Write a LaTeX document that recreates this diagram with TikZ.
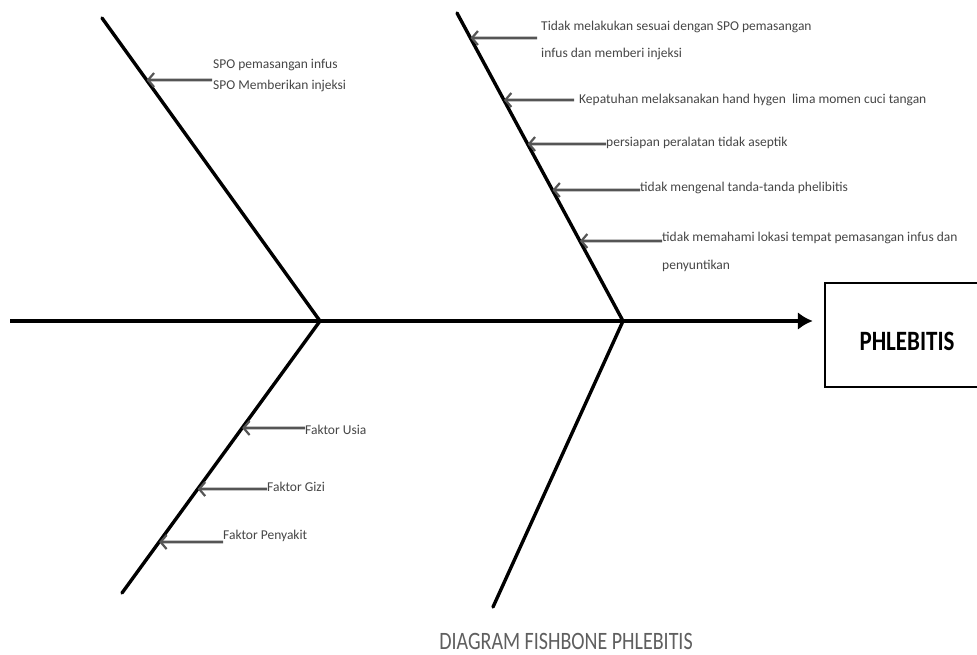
\documentclass[tikz,border=0pt]{standalone}
\usepackage{fontspec}
\setmainfont{Carlito}
\usetikzlibrary{arrows.meta,calc}
\definecolor{causegray}{RGB}{85,85,85}
\definecolor{labelgray}{RGB}{70,70,70}
\definecolor{titlegray}{RGB}{95,95,95}
\begin{document}
\begin{tikzpicture}[x=1pt,y=-1pt,
  bone/.style={line width=3.4pt, black, line cap=round, line join=miter},
  spine/.style={line width=4.8pt, black, -{Latex[length=15pt,width=18pt]}},
  cause/.style={line width=2.6pt, causegray, -{Straight Barb[length=6pt,width=14pt,line width=2.2pt]}},
  lbl/.style={font=\fontsize{13.5}{16.5}\selectfont, text=labelgray, anchor=west, inner sep=0pt, align=left},
]
\useasboundingbox (0,0) rectangle (977,654);
\clip (0,0) rectangle (977,654);
\fill[white] (0,0) rectangle (977,654);

% skeleton
\coordinate (tail) at (10,321);
\coordinate (J1) at (320,321);
\coordinate (J2) at (623,321);
\coordinate (ulT) at (102,18);
\coordinate (urT) at (457,13);
\coordinate (llB) at (122,593);
\coordinate (lrB) at (493,607);

\node[draw, line width=2.5pt, minimum width=164pt, minimum height=104pt, inner sep=0pt,
      font=\fontsize{28}{30}\selectfont\bfseries, text height=30pt, text depth=0pt] (effect) at (907,335) {\scalebox{0.82}[1]{PHLEBITIS}};

\draw[spine, shorten >=11pt] (tail) -- (tail -| effect.west);
\draw[bone] (ulT) -- (J1) -- (llB);
\draw[bone] (urT) -- (J2) -- (lrB);

% upper left
\coordinate (p1) at (intersection of ulT--J1 and 0,80--1,80);
\coordinate (s1) at (212,80);
\node[lbl] (l1) at (213,75.5) {SPO pemasangan infus\\[4pt]SPO Memberikan injeksi};
\draw[cause] (s1) -- (p1);

% upper right
\coordinate (p2) at (intersection of urT--J2 and 0,38--1,38);
\coordinate (s2) at (537,38);
\node[lbl] (l2) at (541,40.5) {Tidak melakukan sesuai dengan SPO pemasangan\\[10pt]infus dan memberi injeksi};
\draw[cause] (s2) -- (p2);

\coordinate (p3) at (intersection of urT--J2 and 0,100--1,100);
\coordinate (s3) at (574,100);
\node[lbl] (l3) at (579,100) {Kepatuhan melaksanakan hand hygen\ \ lima momen cuci tangan};
\draw[cause] (s3) -- (p3);

\coordinate (p4) at (intersection of urT--J2 and 0,144--1,144);
\coordinate (s4) at (606,144);
\node[lbl] (l4) at (606,143) {persiapan peralatan tidak aseptik};
\draw[cause] (s4) -- (p4);

\coordinate (p5) at (intersection of urT--J2 and 0,190--1,190);
\coordinate (s5) at (640,190);
\node[lbl] (l5) at (640,188) {tidak mengenal tanda-tanda phelibitis};
\draw[cause] (s5) -- (p5);

\coordinate (p6) at (intersection of urT--J2 and 0,241--1,241);
\coordinate (s6) at (662,241);
\node[lbl] (l6) at (662,252) {tidak memahami lokasi tempat pemasangan infus dan\\[11pt]penyuntikan};
\draw[cause] (s6) -- (p6);

% lower left
\coordinate (p7) at (intersection of J1--llB and 0,428--1,428);
\coordinate (s7) at (305,428);
\node[lbl] (l7) at (305,430) {Faktor Usia};
\draw[cause] (s7) -- (p7);

\coordinate (p8) at (intersection of J1--llB and 0,489--1,489);
\coordinate (s8) at (267,489);
\node[lbl] (l8) at (267,487) {Faktor Gizi};
\draw[cause] (s8) -- (p8);

\coordinate (p9) at (intersection of J1--llB and 0,542--1,542);
\coordinate (s9) at (223,542);
\node[lbl] (l9) at (223,536) {Faktor Penyakit};
\draw[cause] (s9) -- (p9);

% title
\node[font=\fontsize{25}{27}\selectfont, text=titlegray, inner sep=0pt] (title) at (566,641) {\scalebox{0.8}[1]{DIAGRAM FISHBONE PHLEBITIS}};
\end{tikzpicture}
\end{document}
